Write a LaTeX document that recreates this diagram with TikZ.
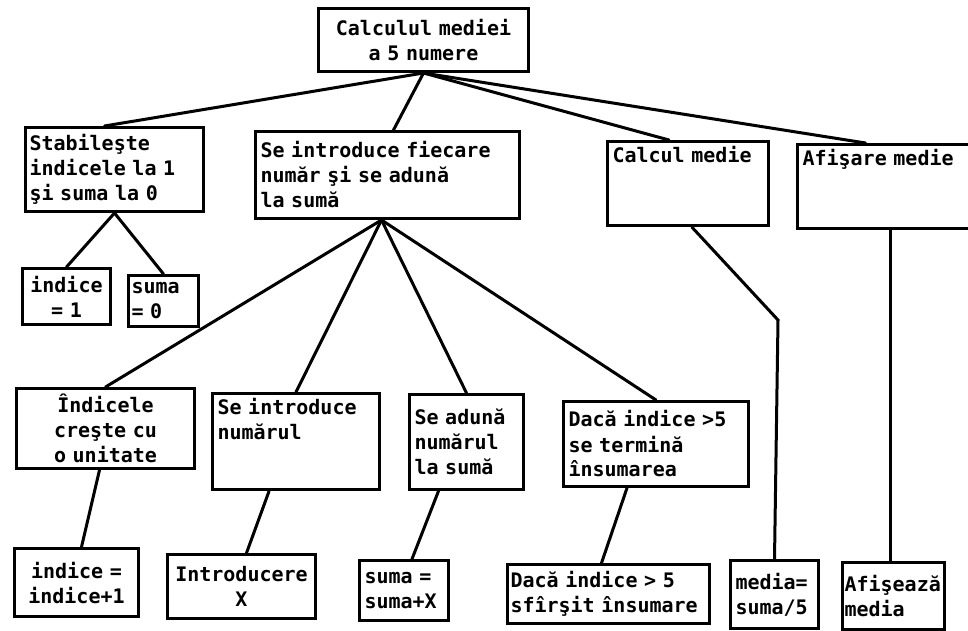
\documentclass[tikz,border=0pt]{standalone}
\usepackage{fontspec}
\usepackage{tikz}
\usetikzlibrary{positioning,calc}
\newfontfamily\dmfont{DejaVu Sans Mono}[UprightFont={* Bold}]
\newcommand{\dmtext}{\dmfont\fontsize{20}{25}\selectfont}

\begin{document}
\begin{tikzpicture}[x=1pt,y=-1pt,
  bx/.style={draw,line width=3pt,anchor=north west,align=left,inner xsep=5pt,inner ysep=5pt,font=\dmtext},
  ln/.style={line width=3pt,line cap=round}]
  \useasboundingbox (0,0) rectangle (968,630);
  % level 0
  \node[bx,align=center,text width=200pt,minimum height=63pt] (top) at (317,7) {Calculul mediei\\a 5 numere};
  % level 1
  \node[bx,inner xsep=4pt,text width=170pt,minimum height=84pt] (stab) at (24,126) {Stabileşte\\indicele la 1\\şi suma la 0};
  \node[bx,text width=254pt,minimum height=87pt] (intro) at (254,130) {Se introduce fiecare\\număr şi se adună\\la sumă};
  \node[bx,text width=151pt,text depth=58pt] (calc) at (606,140) {Calcul medie};
  \node[bx,text width=170pt,text depth=58pt] (afis) at (796,143) {Afişare medie};
  % level 2
  \node[bx,align=center,text width=78pt,minimum height=56pt] (ind1) at (21,267) {indice\\= 1};
  \node[bx,inner xsep=3pt,text width=64pt,minimum height=51pt] (sum0) at (127,274) {suma\\= 0};
  \node[bx,align=center,text width=168pt,minimum height=80pt] (incr) at (15,387) {Îndicele\\creşte cu\\o unitate};
  \node[bx,text width=157pt,text depth=70pt] (intnum) at (211,392) {Se introduce\\numărul};
  \node[bx,text width=104pt,minimum height=95pt] (adun) at (408,393) {Se adună\\numărul\\la sumă};
  \node[bx,text width=175pt,minimum height=85pt] (daca) at (562,400) {Dacă indice >5\\se termină\\însumarea};
  % level 3
  \node[bx,align=center,text width=114pt,minimum height=68pt] (incone) at (13,547) {indice =\\indice+1};
  \node[bx,align=center,text width=138pt,minimum height=64pt] (introx) at (166,553) {Introducere\\X};
  \node[bx,text width=79pt,minimum height=60pt] (sumx) at (358,559) {suma =\\suma+X};
  \node[bx,inner xsep=3pt,text width=196pt,minimum height=59pt] (dacafin) at (506,563) {Dacă indice > 5\\sfîrşit însumare};
  \node[bx,text width=78pt,minimum height=68pt] (media) at (729,559) {media=\\suma/5};
  \node[bx,inner xsep=2pt,text width=98pt,minimum height=67pt] (afisz) at (841,561) {Afişează\\media};
  \coordinate (bend) at (778,320);
  % connectors
  \draw[ln] (top.south) -- ([xshift=-10pt]stab.north);
  \draw[ln] (top.south) -- ([xshift=6pt]intro.north);
  \draw[ln] (top.south) -- ([xshift=-19pt]calc.north);
  \draw[ln] (top.south) -- ([xshift=-22pt]afis.north);
  \draw[ln] (stab.south) -- (ind1.north);
  \draw[ln] (stab.south) -- (sum0.north);
  \draw[ln] ([xshift=-6pt]intro.south) -- (incr.north);
  \draw[ln] ([xshift=-6pt]intro.south) -- (intnum.north);
  \draw[ln] ([xshift=-6pt]intro.south) -- (adun.north);
  \draw[ln] ([xshift=-6pt]intro.south) -- (daca.north);
  \draw[ln] ([xshift=-6pt]incr.south) -- ([xshift=5pt]incone.north);
  \draw[ln] ([xshift=-27pt]intnum.south) -- ([xshift=5pt]introx.north);
  \draw[ln] ([xshift=-28pt]adun.south) -- ([xshift=8pt]sumx.north);
  \draw[ln] ([xshift=-29pt]daca.south) -- ([xshift=-7pt]dacafin.north);
  \draw[ln] ([xshift=4pt]calc.south) -- (bend) -- (media.north);
  \draw[ln] ([xshift=-3pt]afisz.north) -- ([xshift=-3pt]afisz.north |- afis.south);
\end{tikzpicture}
\end{document}
